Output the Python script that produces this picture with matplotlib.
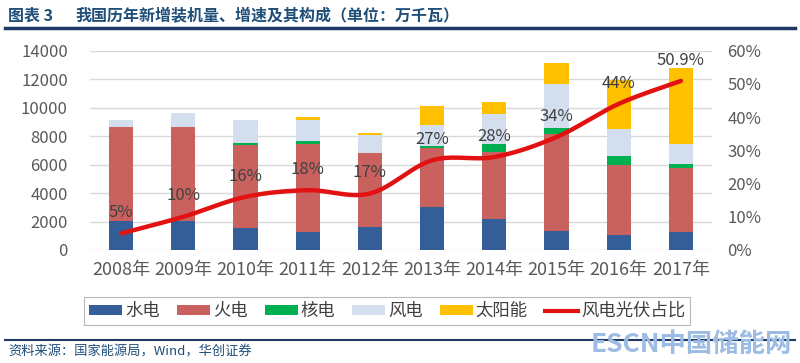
import numpy as np
import matplotlib.pyplot as plt
from matplotlib.patches import Patch
from matplotlib.lines import Line2D
from matplotlib.ticker import FuncFormatter

plt.rcParams['font.family'] = ['Noto Sans CJK SC', 'DejaVu Sans']

# 数据（万千瓦）
years = ['2008年', '2009年', '2010年', '2011年', '2012年',
         '2013年', '2014年', '2015年', '2016年', '2017年']
hydro = [2050, 2050, 1540, 1240, 1630, 3030, 2150, 1310, 1070, 1240]
thermal = [6580, 6580, 5860, 6230, 5200, 4150, 4740, 6810, 4880, 4530]
nuclear = [0, 0, 140, 160, 0, 140, 540, 440, 650, 240]
wind = [520, 980, 1560, 1520, 1280, 1490, 2100, 3100, 1910, 1470]
solar = [0, 0, 0, 180, 140, 1330, 840, 1450, 3400, 5300]
share = [5, 10, 16, 18, 17, 27, 28, 34, 44, 50.9]
share_labels = ['5%', '10%', '16%', '18%', '17%', '27%', '28%', '34%', '44%', '50.9%']

series = [('水电', hydro, '#335E97'),
          ('火电', thermal, '#C9625F'),
          ('核电', nuclear, '#00B050'),
          ('风电', wind, '#D3DEEE'),
          ('太阳能', solar, '#FFC000')]
line_color = '#E31212'
tick_color = '#595959'


def smooth(xs, ys, n=30):
    # Excel 风格的平滑曲线 (Catmull-Rom -> Bezier)
    pts = np.column_stack([xs, ys]).astype(float)
    ext = np.vstack([pts[0], pts, pts[-1]])
    t = np.linspace(0, 1, n)[:, None]
    out = []
    for i in range(len(pts) - 1):
        p0, p1, p2, p3 = ext[i], ext[i + 1], ext[i + 2], ext[i + 3]
        c1 = p1 + (p2 - p0) / 6
        c2 = p2 - (p3 - p1) / 6
        seg = (1 - t) ** 3 * p1 + 3 * (1 - t) ** 2 * t * c1 + 3 * (1 - t) * t ** 2 * c2 + t ** 3 * p2
        out.append(seg if i == 0 else seg[1:])
    out = np.vstack(out)
    return out[:, 0], out[:, 1]


fig = plt.figure(figsize=(8, 3.63), dpi=100)
ax = fig.add_axes([0.1125, 0.3113, 0.7775, 0.549])

x = np.arange(len(years))
bottom = np.zeros(len(years))
for name, vals, color in series:
    ax.bar(x, vals, width=0.39, bottom=bottom, color=color, zorder=2)
    bottom += np.array(vals)

ax.set_xlim(-0.5, len(years) - 0.5)
ax.set_ylim(0, 14000)
ax.set_yticks(np.arange(0, 14001, 2000))
ax.grid(axis='y', color='#D9D9D9', lw=1, zorder=0)
ax.set_xticks(x)
ax.set_xticklabels(years, fontsize=13, color=tick_color)
ax.tick_params(axis='x', length=0, pad=8)
ax.tick_params(axis='y', length=0, pad=16, labelsize=12, labelcolor=tick_color)
for s in ax.spines.values():
    s.set_visible(False)

ax2 = ax.twinx()
ax2.set_ylim(0, 60)
ax2.set_yticks(np.arange(0, 61, 10))
ax2.yaxis.set_major_formatter(FuncFormatter(lambda v, p: f'{v:.0f}%'))
ax2.tick_params(axis='y', length=0, pad=11, labelsize=12, labelcolor=tick_color)
for s in ax2.spines.values():
    s.set_visible(False)

sx, sy = smooth(x, share)
ax2.plot(sx, sy, color=line_color, lw=3.2, solid_capstyle='round', zorder=5)
for xi, v, lab in zip(x, share, share_labels):
    ax2.annotate(lab, (xi, v), xytext=(0, 15), textcoords='offset points',
                 ha='center', va='center', fontsize=12, color='#404040', zorder=6)

# 图例
handles = [Patch(facecolor=c, edgecolor='none') for _, _, c in series]
handles.append(Line2D([0], [0], color=line_color, lw=3))
labels = [s[0] for s in series] + ['风电光伏占比']
leg = fig.legend(handles, labels, loc='center', bbox_to_anchor=(0.484, 0.143), ncol=6,
                 fontsize=12.5, frameon=True, fancybox=False, edgecolor='#A6A6A6',
                 handlelength=1.9, handleheight=0.45, handletextpad=0.15,
                 columnspacing=1.0, borderpad=0.3)
leg.get_frame().set_linewidth(0.8)
for t in leg.get_texts():
    t.set_color('#404040')

# 标题与来源
fig.text(0.01, 0.958, '图表 3', fontsize=11.5, fontweight='bold', color='#1F4E79', va='center')
fig.text(0.094, 0.958, '我国历年新增装机量、增速及其构成（单位：万千瓦）', fontsize=11.5,
         fontweight='bold', color='#1F4E79', va='center')
fig.add_artist(Line2D([0.006, 0.994], [0.922, 0.922], color='#1F3864', lw=2.5))
fig.add_artist(Line2D([0.006, 0.994], [0.063, 0.063], color='#1F3864', lw=1.5))
fig.text(0.01, 0.03, '资料来源：国家能源局，Wind，华创证券', fontsize=9.5, color='#1F4E79',
         va='center', style='italic')
fig.text(0.99, 0.05, 'ESCN中国储能网', fontsize=19, fontweight='bold', color='#9DBCE3',
         ha='right', va='center')

fig.savefig('out.png', dpi=100)
